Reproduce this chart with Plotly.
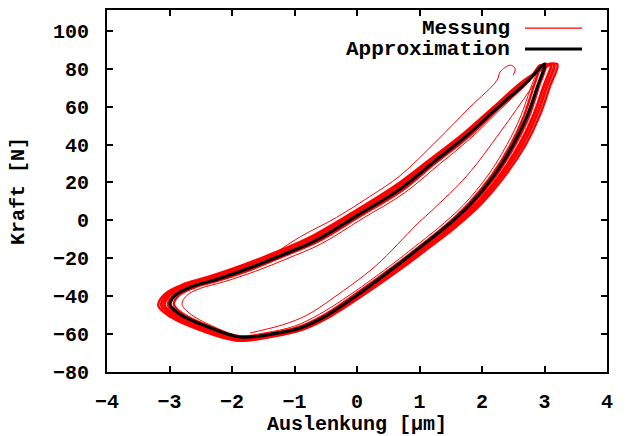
import plotly.graph_objects as go

# ---------------- data ----------------
# Approximation loop: top tip -> lower branch -> left tip -> upper branch -> top tip
approx_x = [3.00, 2.88, 2.72, 2.50, 2.20, 1.80, 1.40, 1.00, 0.69, 0.00, -0.50, -0.91, -1.40, -1.87,
            -2.40, -2.83, -2.99, -2.89, -2.62, -2.25, -1.71, -1.20, -0.65, 0.00, 0.69, 1.22, 1.76,
            2.29, 2.72, 3.00]
approx_y = [82.5, 70.0, 55.0, 40.0, 24.0, 8.0, -4.0, -14.5, -22.5, -39.5, -50.5, -56.8, -60.2, -61.6,
            -56.0, -49.7, -44.4, -39.1, -34.7, -31.2, -25.0, -18.3, -10.5, 2.5, 16.5, 30.6, 44.8,
            60.7, 73.0, 82.5]

# Measured cycles (Messung)
meas1_x = [3.20, 3.08, 2.92, 2.70, 2.38, 1.97, 1.56, 1.15, 0.83, 0.12, -0.42, -0.86, -1.38, -1.90,
           -2.50, -2.98, -3.18, -3.08, -2.80, -2.40, -1.82, -1.30, -0.75, -0.08, 0.62, 1.16, 1.71,
           2.26, 2.72, 3.20]
meas1_y = [82.5, 70.0, 55.0, 40.0, 24.0, 8.0, -4.0, -14.5, -22.5, -39.0, -50.5, -57.5, -61.5, -63.5,
           -58.0, -51.0, -45.0, -39.0, -34.0, -30.0, -23.5, -16.8, -8.8, 4.0, 18.5, 32.0, 46.0,
           62.0, 75.0, 82.5]
meas6_x = [3.15, 3.03, 2.87, 2.65, 2.33, 1.93, 1.52, 1.11, 0.80, 0.09, -0.44, -0.87, -1.38, -1.89,
           -2.48, -2.94, -3.13, -3.03, -2.76, -2.36, -1.79, -1.28, -0.73, -0.06, 0.64, 1.18, 1.73,
           2.27, 2.72, 3.15]
meas6_y = [82.5, 70.0, 55.0, 40.0, 24.0, 8.0, -4.0, -14.5, -22.5, -39.0, -50.4, -57.2, -61.2, -63.0,
           -57.5, -50.6, -44.8, -39.0, -34.1, -30.3, -23.8, -17.1, -9.3, 3.6, 18.0, 31.6, 45.7,
           61.6, 74.5, 82.5]
meas2_x = [3.10, 2.98, 2.82, 2.60, 2.29, 1.89, 1.48, 1.08, 0.76, 0.06, -0.46, -0.88, -1.39, -1.88,
           -2.45, -2.90, -3.08, -2.98, -2.71, -2.32, -1.76, -1.25, -0.70, -0.04, 0.66, 1.19, 1.74,
           2.28, 2.72, 3.10]
meas2_y = [82.5, 70.0, 55.0, 40.0, 24.0, 8.0, -4.0, -14.5, -22.5, -39.0, -50.2, -57.0, -60.8, -62.5,
           -57.0, -50.3, -44.7, -39.0, -34.3, -30.6, -24.2, -17.5, -9.8, 3.3, 17.5, 31.3, 45.4,
           61.3, 74.0, 82.5]
meas3_x = [3.02, 2.90, 2.75, 2.53, 2.23, 1.83, 1.43, 1.03, 0.72, 0.03, -0.48, -0.90, -1.40, -1.87,
           -2.42, -2.86, -3.02, -2.92, -2.65, -2.27, -1.72, -1.21, -0.66, 0.00, 0.69, 1.22, 1.76,
           2.29, 2.72, 3.02]
meas3_y = [82.5, 70.0, 55.0, 40.0, 24.0, 8.0, -4.0, -14.5, -22.5, -39.0, -50.0, -56.6, -60.3, -62.0,
           -56.3, -50.0, -44.5, -39.0, -34.5, -31.0, -24.8, -18.1, -10.3, 2.6, 16.7, 30.8, 45.0,
           60.9, 73.3, 82.5]
meas4_x = [2.93, 2.82, 2.67, 2.46, 2.16, 1.76, 1.37, 0.97, 0.66, -0.03, -0.52, -0.93, -1.42, -1.87,
           -2.37, -2.78, -2.93, -2.84, -2.58, -2.22, -1.68, -1.18, -0.63, 0.03, 0.71, 1.24, 1.78,
           2.30, 2.71, 2.93]
meas4_y = [82.0, 70.0, 55.0, 40.0, 24.0, 8.0, -4.0, -14.5, -22.5, -39.0, -49.8, -56.2, -59.8, -61.3,
           -55.8, -49.4, -44.3, -39.3, -35.2, -31.8, -25.8, -19.0, -11.3, 1.8, 15.5, 29.8, 44.0,
           60.0, 72.3, 82.0]
meas5_x = [2.90, 2.78, 2.62, 2.40, 2.10, 1.70, 1.30, 0.90, 0.59, -0.10, -0.60, -1.00, -1.47, -1.88,
           -2.33, -2.68, -2.80, -2.72, -2.50, -2.15, -1.62, -1.12, -0.58, 0.08, 0.76, 1.28, 1.80,
           2.30, 2.68, 2.90]
meas5_y = [81.0, 70.0, 55.0, 40.0, 24.0, 8.0, -4.0, -14.5, -22.5, -39.0, -49.5, -55.8, -59.3, -60.8,
           -55.5, -49.0, -44.2, -39.5, -35.8, -32.6, -26.8, -20.2, -12.5, 0.8, 14.5, 28.6, 42.8,
           58.8, 71.2, 81.0]
# transient parts of the measurement
start_x = [-1.30, -0.90, -0.33, 0.20, 0.69, 1.28, 1.80, 2.24, 2.29, 2.45, 2.53, 2.50]
start_y = [-17.0, -8.5, 1.5, 12.5, 23.6, 42.1, 59.5, 73.9, 78.3, 81.9, 80.1, 76.6]
inner_x = [2.82, 2.55, 2.29, 1.76, 1.22, 0.96, 0.30, -0.38, -0.80, -1.18, -1.71]
inner_y = [71.3, 58.5, 46.5, 23.6, 5.9, -2.0, -24.0, -40.9, -50.0, -55.0, -59.4]

x_ticks = [-4, -3, -2, -1, 0, 1, 2, 3, 4]
y_ticks = [-80, -60, -40, -20, 0, 20, 40, 60, 80, 100]

legend_labels = ["Messung", "Approximation"]
x_title = "Auslenkung [μm]"
y_title = "Kraft [N]"

# ---------------- figure ----------------
FONT = "Liberation Mono"
RED = "#ff0000"

fig = go.Figure()

band = [(meas1_x, meas1_y, 2.4), (meas6_x, meas6_y, 3.0), (meas2_x, meas2_y, 3.0),
        (meas3_x, meas3_y, 3.0), (meas4_x, meas4_y, 2.4), (meas5_x, meas5_y, 1.0),
        (start_x, start_y, 1.0), (inner_x, inner_y, 1.0)]
for xs, ys, w in band:
    fig.add_trace(go.Scatter(x=xs, y=ys, mode="lines",
                             line=dict(color=RED, width=w, shape="spline", smoothing=1.0),
                             name=legend_labels[0], showlegend=False, hoverinfo="skip"))

fig.add_trace(go.Scatter(x=approx_x, y=approx_y, mode="lines",
                         line=dict(color="black", width=3, shape="spline", smoothing=1.0),
                         name=legend_labels[1], showlegend=False))

# gnuplot-style key (text right-aligned, sample to the right)
key_rows = [(legend_labels[0], RED, 1.2, 0.950), (legend_labels[1], "black", 3, 0.892)]
for label, col, w, yy in key_rows:
    fig.add_annotation(x=0.81, y=yy, xref="paper", yref="paper", text="<b>%s</b>" % label,
                       showarrow=False, xanchor="right", yanchor="middle",
                       font=dict(family=FONT, size=21, color="black"))
    fig.add_shape(type="line", xref="paper", yref="paper", x0=0.836, x1=0.95, y0=yy, y1=yy,
                  line=dict(color=col, width=w))

# axis titles
fig.add_annotation(x=0.5, y=-0.146, xref="paper", yref="paper", text="<b>%s</b>" % x_title,
                   showarrow=False, xanchor="center", yanchor="middle",
                   font=dict(family=FONT, size=20, color="black"))
fig.add_annotation(x=-0.178, y=0.5, xref="paper", yref="paper", text="<b>%s</b>" % y_title,
                   showarrow=False, xanchor="center", yanchor="middle", textangle=-90,
                   font=dict(family=FONT, size=20, color="black"))

axis_common = dict(showgrid=False, zeroline=False, showline=True, linecolor="black", linewidth=2,
                   mirror="ticks", ticks="inside", ticklen=6, tickwidth=2, tickcolor="black",
                   automargin=False,
                   tickfont=dict(family=FONT, size=20, color="black", weight="bold"))

fig.update_xaxes(range=[-4, 4], tickvals=x_ticks,
                 ticktext=[str(v).replace("-", "−") for v in x_ticks],
                 ticklabelstandoff=10, **axis_common)
fig.update_yaxes(range=[-80, 111], tickvals=y_ticks,
                 ticktext=[str(v).replace("-", "−") for v in y_ticks],
                 ticklabelstandoff=12, **axis_common)

# the page body adds an 8 px offset, so the figure is sized to fill the rest of the window
fig.update_layout(width=619, height=428, margin=dict(l=99, r=20, t=2, b=64),
                  plot_bgcolor="white", paper_bgcolor="white", showlegend=False)

fig.write_html("out.html")
